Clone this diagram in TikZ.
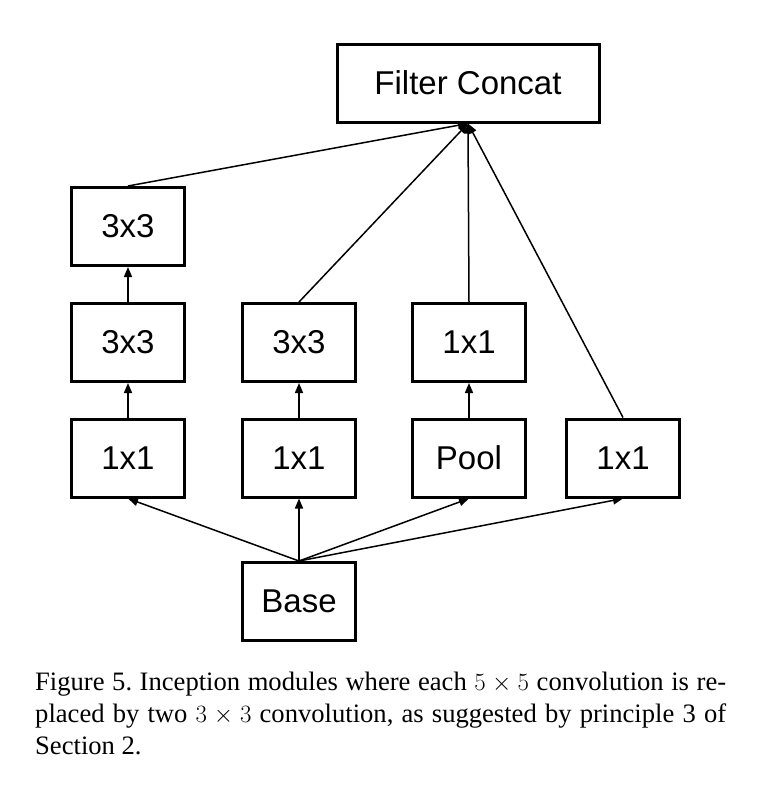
\documentclass[tikz,border=0pt]{standalone}
\usepackage{fontspec}
\setmainfont{Liberation Serif}
\newfontfamily\arialf{Liberation Sans}
\usetikzlibrary{arrows.meta}
\begin{document}
\begin{tikzpicture}[x=1pt,y=-1pt,
 blk/.style={draw, line width=3pt, minimum width=113pt, minimum height=78pt, inner sep=0pt,
   font=\arialf\fontsize{33}{39}\selectfont},
 arr/.style={line width=1.5pt, -{Triangle[length=10pt,width=8pt]}}]
\useasboundingbox (0,0) rectangle (784,798);
\node[blk, minimum width=262pt] (fc) at (468,83) {Filter Concat};
\node[blk] (a3) at (128,226.5) {3x3};
\node[blk] (a2) at (128,342.5) {3x3};
\node[blk] (b2) at (299,342.5) {3x3};
\node[blk] (c2) at (469,342.5) {1x1};
\node[blk] (a1) at (128,458) {1x1};
\node[blk] (b1) at (299,458) {1x1};
\node[blk] (c1) at (469,458) {Pool};
\node[blk] (d1) at (623,458) {1x1};
\node[blk] (base) at (299,601.5) {Base};
\draw[arr] (a3.north) -- (fc.south);
\draw[arr] (b2.north) -- (fc.south);
\draw[arr] (c2.north) -- (fc.south);
\draw[arr] (d1.north) -- (fc.south);
\draw[arr] (a2) -- (a3);
\draw[arr] (a1) -- (a2);
\draw[arr] (b1) -- (b2);
\draw[arr] (c1) -- (c2);
\draw[arr] (base.north) -- (a1.south);
\draw[arr] (base.north) -- (b1.south);
\draw[arr] (base.north) -- (c1.south);
\draw[arr] (base.north) -- (d1.south);
\node[anchor=north west, inner sep=0pt, text width=691pt, align=justify,
  font=\fontsize{26.6}{32}\selectfont\frenchspacing] (cap) at (35,672)
  {Figure 5. Inception modules where each $5\times5$ convolution is re-\linebreak
   placed by two $3\times3$ convolution, as suggested by principle 3 of\linebreak
   Section 2.};
\end{tikzpicture}
\end{document}
